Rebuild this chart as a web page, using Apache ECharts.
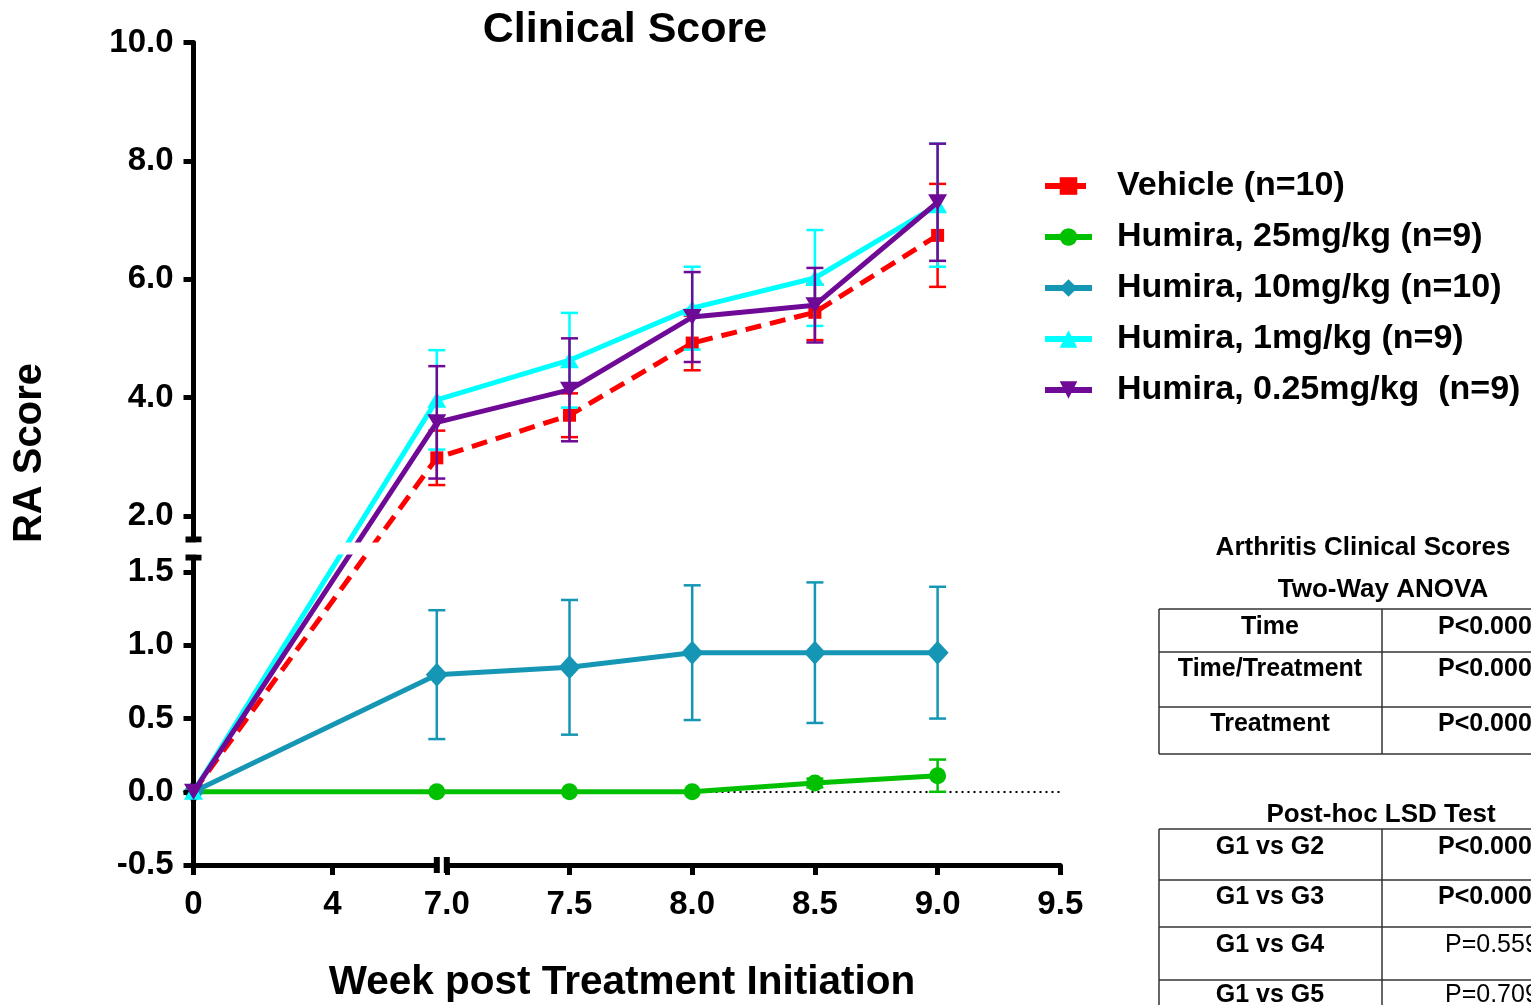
<!DOCTYPE html>
<html><head><meta charset="utf-8">
<script src="https://cdn.jsdelivr.net/npm/echarts@6/dist/echarts.min.js"></script>
<style>html,body{margin:0;padding:0;background:#fff}#c{width:1531px;height:1005px}</style>
</head><body><div id="c"></div>
<script>
// ---------------- data ----------------
const weeks = [0, 7, 7.5, 8, 8.5, 9];
const seriesNames = ['Vehicle (n=10)', 'Humira, 25mg/kg (n=9)', 'Humira, 10mg/kg (n=10)', 'Humira, 1mg/kg (n=9)', 'Humira, 0.25mg/kg  (n=9)'];
const vehicleMean = [0, 2.98, 3.70, 4.92, 5.44, 6.74];
const vehicleSem  = [0, 0.46, 0.37, 0.46, 0.47, 0.87];
const h25Mean = [0, 0, 0, 0, 0.06, 0.11];
const h25Sem  = [0, 0, 0, 0, 0.03, 0.11];
const h10Mean = [0, 0.80, 0.85, 0.95, 0.95, 0.95];
const h10Sem  = [0, 0.44, 0.46, 0.46, 0.48, 0.45];
const h1Mean  = [0, 3.96, 4.63, 5.51, 6.02, 7.25];
const h1Sem   = [0, 0.84, 0.80, 0.70, 0.81, 1.04];
const h025Mean = [0, 3.58, 4.13, 5.36, 5.56, 7.30];
const h025Sem  = [0, 0.95, 0.87, 0.76, 0.63, 0.99];
const yTicksUpper = [2, 4, 6, 8, 10];
const yTicksLower = [-0.5, 0, 0.5, 1.0, 1.5];
const xTicksLeft = [0, 4];
const xTicksRight = [7, 7.5, 8, 8.5, 9, 9.5];
const anovaRows = [['Time', 'P<0.0001'], ['Time/Treatment', 'P<0.0001'], ['Treatment', 'P<0.0001']];
const lsdRows = [['G1 vs G2', 'P<0.0001'], ['G1 vs G3', 'P<0.0001'], ['G1 vs G4', 'P=0.559'], ['G1 vs G5', 'P=0.709']];

// ---------------- layout / broken-axis scale ----------------
const FONT = '"Liberation Sans", Arial, sans-serif';
const G = { left: 193.5, top: 42.5 };
const X_LEFT = { min: 0, max: 7, len: 243.3 }, X_GAP = 10, X_RIGHT = { min: 7, max: 9.5, len: 613.5 };
const Y_UP = { min: 1.6, max: 10, len: 497 }, Y_GAP = 18, Y_LOW = { min: -0.5, max: 1.6, len: 307.5 };
const W = X_LEFT.len + X_GAP + X_RIGHT.len;
const H = Y_UP.len + Y_GAP + Y_LOW.len;
function xs(v) {
  return v <= X_LEFT.max ? (v - X_LEFT.min) / (X_LEFT.max - X_LEFT.min) * X_LEFT.len
    : X_LEFT.len + X_GAP + (v - X_RIGHT.min) / (X_RIGHT.max - X_RIGHT.min) * X_RIGHT.len;
}
function ys(v) {
  return v <= Y_LOW.max ? (v - Y_LOW.min) / (Y_LOW.max - Y_LOW.min) * Y_LOW.len
    : Y_LOW.len + Y_GAP + (v - Y_UP.min) / (Y_UP.max - Y_UP.min) * Y_UP.len;
}

const defs = [
  { name: seriesNames[0], mean: vehicleMean, sem: vehicleSem, color: '#FF0000', symbol: 'rect', size: 13, rot: 0, type: [16, 9] },
  { name: seriesNames[1], mean: h25Mean, sem: h25Sem, color: '#00C000', symbol: 'circle', size: 17, rot: 0, type: 'solid' },
  { name: seriesNames[2], mean: h10Mean, sem: h10Sem, color: '#1496B4', symbol: 'diamond', size: [22, 24], rot: 0, type: 'solid' },
  { name: seriesNames[3], mean: h1Mean, sem: h1Sem, color: '#00FFFF', symbol: 'triangle', size: [19, 16], rot: 0, type: 'solid' },
  { name: seriesNames[4], mean: h025Mean, sem: h025Sem, color: '#6E0A96', symbol: 'triangle', size: [19, 16], rot: 180, type: 'solid' }
];

const axisBase = {
  axisLine: { show: true, onZero: false, lineStyle: { color: '#000', width: 5 } },
  axisTick: { show: true, length: 10, lineStyle: { color: '#000', width: 5 } },
  axisLabel: { color: '#000', fontFamily: FONT, fontWeight: 'bold', fontSize: 33 },
  splitLine: { show: false },
  z: 10
};
function mk(extra) { return echarts.util.merge(echarts.util.clone(axisBase), extra, true); }
const hidden = (gi, min, max) => ({ gridIndex: gi, type: 'value', show: false, min: min, max: max });

const grid = [
  { left: G.left, top: G.top, width: W, height: H },
  { left: G.left, top: G.top, width: W, height: Y_UP.len },
  { left: G.left, top: G.top + Y_UP.len + Y_GAP, width: W, height: Y_LOW.len },
  { left: G.left, top: G.top, width: X_LEFT.len, height: H },
  { left: G.left + X_LEFT.len + X_GAP, top: G.top, width: X_RIGHT.len, height: H }
];

const xAxis = [
  hidden(0, 0, W), hidden(1, 0, 1), hidden(2, 0, 1),
  mk({ gridIndex: 3, type: 'value', position: 'bottom', min: X_LEFT.min, max: X_LEFT.max,
    axisLine: { symbol: ['none', 'rect'], symbolSize: [16, 6] },
    axisTick: { customValues: xTicksLeft },
    axisLabel: { customValues: xTicksLeft, margin: 23, formatter: v => String(v) } }),
  mk({ gridIndex: 4, type: 'value', position: 'bottom', min: X_RIGHT.min, max: X_RIGHT.max, interval: 0.5,
    axisLine: { symbol: ['rect', 'none'], symbolSize: [16, 6] },
    axisTick: { customValues: xTicksRight },
    axisLabel: { customValues: xTicksRight, margin: 23, formatter: v => v.toFixed(1) } })
];
const yAxis = [
  hidden(0, 0, H),
  mk({ gridIndex: 1, type: 'value', position: 'left', min: Y_UP.min, max: Y_UP.max,
    axisLine: { symbol: ['rect', 'none'], symbolSize: [16, 6] },
    axisTick: { customValues: yTicksUpper },
    axisLabel: { customValues: yTicksUpper, margin: 20, formatter: v => v.toFixed(1) } }),
  mk({ gridIndex: 2, type: 'value', position: 'left', min: Y_LOW.min, max: Y_LOW.max,
    axisLine: { symbol: ['none', 'rect'], symbolSize: [16, 6] },
    axisTick: { customValues: yTicksLower },
    axisLabel: { customValues: yTicksLower, margin: 20, formatter: v => v.toFixed(1) } }),
  hidden(3, 0, 1), hidden(4, 0, 1)
];

const series = [];
// dotted zero reference line
series.push({ type: 'line', name: 'zero', data: [], xAxisIndex: 0, yAxisIndex: 0, z: 1, silent: true,
  markLine: { silent: true, symbol: 'none', label: { show: false }, animation: false,
    lineStyle: { type: [2, 4], color: '#000', width: 2 }, data: [{ yAxis: ys(0) }] } });

defs.forEach((d, k) => {
  series.push({
    type: 'custom', name: d.name + ' err', xAxisIndex: 0, yAxisIndex: 0, z: 3 + k * 2, silent: true,
    data: weeks.map((w, i) => [xs(w), ys(d.mean[i] - d.sem[i]), ys(d.mean[i] + d.sem[i]), d.sem[i]]),
    renderItem: function (params, api) {
      if (api.value(3) <= 0) return null;
      const lo = api.coord([api.value(0), api.value(1)]);
      const hi = api.coord([api.value(0), api.value(2)]);
      const hw = 8.5;
      const st = { stroke: d.color, lineWidth: 2.5 };
      return { type: 'group', children: [
        { type: 'line', shape: { x1: lo[0], y1: lo[1], x2: hi[0], y2: hi[1] }, style: st },
        { type: 'line', shape: { x1: lo[0] - hw, y1: lo[1], x2: lo[0] + hw, y2: lo[1] }, style: st },
        { type: 'line', shape: { x1: hi[0] - hw, y1: hi[1], x2: hi[0] + hw, y2: hi[1] }, style: st }
      ] };
    }
  });
  series.push({
    type: 'line', name: d.name, xAxisIndex: 0, yAxisIndex: 0, z: 4 + k * 2,
    data: weeks.map((w, i) => [xs(w), ys(d.mean[i])]),
    symbol: d.symbol, symbolSize: d.size, symbolRotate: d.rot, showAllSymbol: true, clip: false,
    lineStyle: { color: d.color, width: 5, type: d.type },
    itemStyle: { color: d.color }
  });
});

// white band marking the y-axis break across the lines
series.push({ type: 'custom', name: 'break', xAxisIndex: 0, yAxisIndex: 0, z: 50, silent: true,
  data: [[0, Y_LOW.len + 3, W, Y_LOW.len + Y_GAP - 3]],
  encode: { x: [0, 2], y: [1, 3] },
  renderItem: function (params, api) {
    const a = api.coord([api.value(0), api.value(3)]);
    const b = api.coord([api.value(2), api.value(1)]);
    return { type: 'rect', shape: { x: a[0] + 3, y: a[1], width: b[0] - a[0], height: b[1] - a[1] }, style: { fill: '#fff' } };
  } });

// ---------------- tables (annotation) ----------------
const graphic = [];
const tf = (size, weight) => weight + ' ' + size + 'px ' + FONT;
function txt(t, x, y, align, size, weight, rot) {
  graphic.push({ type: 'text', x: x, y: y, rotation: rot || 0, silent: true, z: 20,
    style: { text: t, font: tf(size, weight), fill: '#000', textAlign: align, textVerticalAlign: 'middle', align: align, verticalAlign: 'middle' } });
}
function ln(x1, y1, x2, y2) {
  graphic.push({ type: 'line', silent: true, z: 20, shape: { x1, y1, x2, y2 }, style: { stroke: '#333', lineWidth: 1.5 } });
}
txt('Arthritis Clinical Scores', 1363, 548, 'center', 26, 'bold');
txt('Two-Way ANOVA', 1383, 590, 'center', 26, 'bold');
const t1 = [609, 652, 707, 754];
t1.forEach(y => ln(1159, y, 1540, y));
ln(1159, t1[0], 1159, t1[3]); ln(1382, t1[0], 1382, t1[3]);
const t1y = [627, 669, 724];
anovaRows.forEach((r, i) => { txt(r[0], 1270, t1y[i], 'center', 25, 'bold'); txt(r[1], 1438, t1y[i], 'left', 25, 'bold'); });
txt('Post-hoc LSD Test', 1381, 815, 'center', 26, 'bold');
const t2 = [829, 880, 927, 980];
t2.forEach(y => ln(1159, y, 1540, y));
ln(1159, t2[0], 1159, 1010); ln(1382, t2[0], 1382, 1010);
const t2y = [847, 897, 945, 995];
lsdRows.forEach((r, i) => {
  txt(r[0], 1270, t2y[i], 'center', 25, 'bold');
  const bold = r[1].indexOf('<') >= 0;
  txt(r[1], bold ? 1438 : 1445, t2y[i], 'left', 25, bold ? 'bold' : 'normal');
});
txt('RA Score', 30, 453, 'center', 40, 'bold', Math.PI / 2);
txt('Week post Treatment Initiation', 622, 983, 'center', 40.5, 'bold');

const chart = echarts.init(document.getElementById('c'), null, { renderer: 'canvas' });
chart.setOption({
  animation: false,
  backgroundColor: '#fff',
  title: { text: 'Clinical Score', left: 625, top: 9, padding: 0, textAlign: 'center',
    textStyle: { fontFamily: FONT, fontWeight: 'bold', fontSize: 43, color: '#000' } },
  legend: {
    orient: 'vertical', left: 1042, top: 169, padding: 0, itemWidth: 47, itemHeight: 22, itemGap: 17,
    selectedMode: false, data: seriesNames,
    lineStyle: { width: 6 },
    textStyle: { fontFamily: FONT, fontWeight: 'bold', fontSize: 34, color: '#000', lineHeight: 34, padding: [0, 0, 0, 20] }
  },
  grid: grid, xAxis: xAxis, yAxis: yAxis, series: series, graphic: graphic
});
</script></body></html>
